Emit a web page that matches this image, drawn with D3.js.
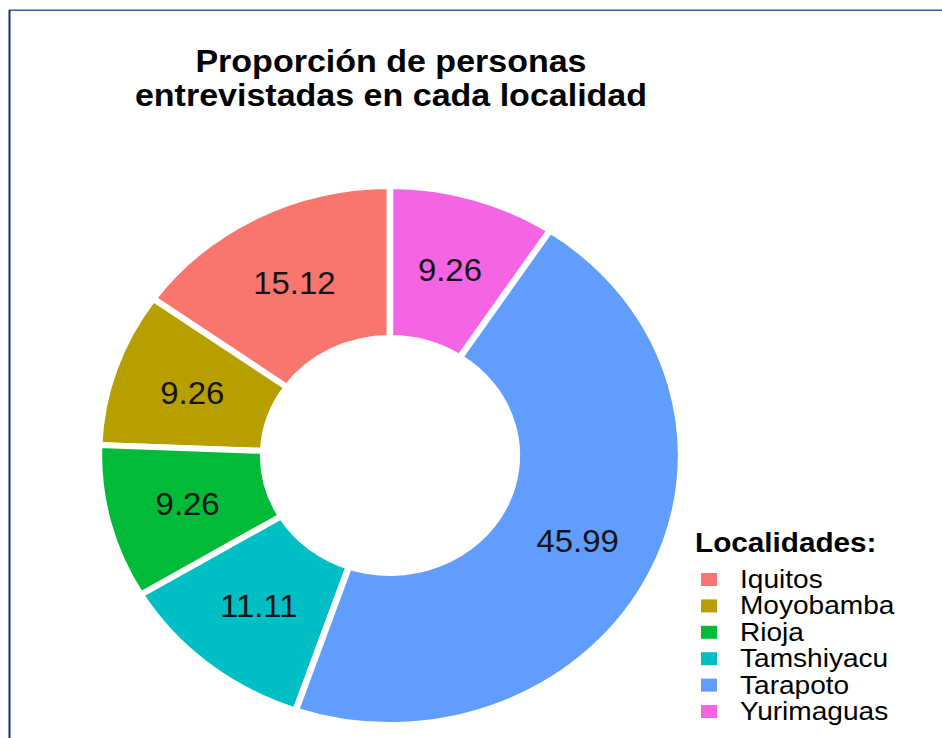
<!DOCTYPE html>
<html>
<head>
<meta charset="utf-8">
<script src="https://cdn.jsdelivr.net/npm/d3@7"></script>
<style>
  body { margin: 0; background: #fff; }
  text { font-family: "Liberation Sans", Arial, sans-serif; }
</style>
</head>
<body>
<svg width="942" height="738"></svg>
<script>
const localidades = ["Iquitos", "Moyobamba", "Rioja", "Tamshiyacu", "Tarapoto", "Yurimaguas"]
const porcentajes = [15.12, 9.26, 9.26, 11.11, 45.99, 9.26]
const colores = ["#F8766D", "#B79F00", "#00BA38", "#00BFC4", "#619CFF", "#F564E3"]
const tituloLineas = ["Proporción de personas", "entrevistadas en cada localidad"]
const tituloLeyenda = "Localidades:"

const W = 942, H = 738
const sx = 1.08 // the original picture is a bit stretched sideways

const svg = d3.select("svg")

// frame lines (top + left only)
svg.append("line").attr("x1", 9).attr("x2", W).attr("y1", 9.5).attr("y2", 9.5)
  .attr("stroke", "#9aa6c4").attr("stroke-width", 1)
svg.append("line").attr("x1", 9).attr("x2", W).attr("y1", 10.5).attr("y2", 10.5)
  .attr("stroke", "#3f5f9e").attr("stroke-width", 1)
svg.append("line").attr("x1", 9.5).attr("x2", 9.5).attr("y1", 10).attr("y2", H)
  .attr("stroke", "#12306e").attr("stroke-width", 2)

const g = svg.append("g").attr("transform", `scale(${sx},1)`)

const cx = 390 / sx, cy = 455.5
const rOut = 269.5, rIn = 117.5

const color = d3.scaleOrdinal().domain(localidades).range(colores)

const pie = d3.pie()
  .sort(null)
  .value(d => d.v)
  .startAngle(0)
  .endAngle(-2 * Math.PI) // counter-clockwise like coord_polar(direction = -1)

const arc = d3.arc().innerRadius(rIn).outerRadius(rOut)
const labelArc = d3.arc().innerRadius((rIn + rOut) / 2).outerRadius((rIn + rOut) / 2)

const datos = localidades.map((k, i) => ({ k: k, v: porcentajes[i] }))

const donut = g.append("g").attr("transform", `translate(${cx},${cy})`)

donut.selectAll("path")
  .data(pie(datos))
  .enter()
  .append("path")
  .attr("d", arc)
  .attr("fill", d => color(d.data.k))
  .attr("stroke", "#fff")
  .attr("stroke-width", 6)
  .attr("stroke-linejoin", "miter")

donut.selectAll("text.valor")
  .data(pie(datos))
  .enter()
  .append("text")
  .attr("class", "valor")
  .attr("x", d => labelArc.centroid(d)[0])
  .attr("y", d => labelArc.centroid(d)[1] + 11)
  .attr("text-anchor", "middle")
  .attr("font-size", 30.5)
  .attr("fill", "#141414")
  .text(d => d3.format(".2f")(d.data.v))

// title
g.selectAll("text.titulo")
  .data(tituloLineas)
  .enter()
  .append("text")
  .attr("class", "titulo")
  .attr("x", 391 / sx)
  .attr("y", (d, i) => 72 + i * 34)
  .attr("text-anchor", "middle")
  .attr("font-size", 31.5)
  .attr("font-weight", "bold")
  .attr("fill", "#000")
  .text(d => d)

// legend
const leg = g.append("g")
leg.append("text")
  .attr("x", 695 / sx)
  .attr("y", 552)
  .attr("font-size", 27.5)
  .attr("font-weight", "bold")
  .attr("fill", "#000")
  .text(tituloLeyenda)

const filas = leg.selectAll("g.fila")
  .data(localidades)
  .enter()
  .append("g")
  .attr("class", "fila")
  .attr("transform", (d, i) => `translate(0, ${588 + i * 26.4})`)

filas.append("rect")
  .attr("x", 701 / sx)
  .attr("y", -15)
  .attr("width", 16 / sx)
  .attr("height", 13)
  .attr("fill", d => color(d))

filas.append("text")
  .attr("x", 740 / sx)
  .attr("y", 0)
  .attr("font-size", 26)
  .attr("fill", "#000")
  .text(d => d)
</script>
</body>
</html>
